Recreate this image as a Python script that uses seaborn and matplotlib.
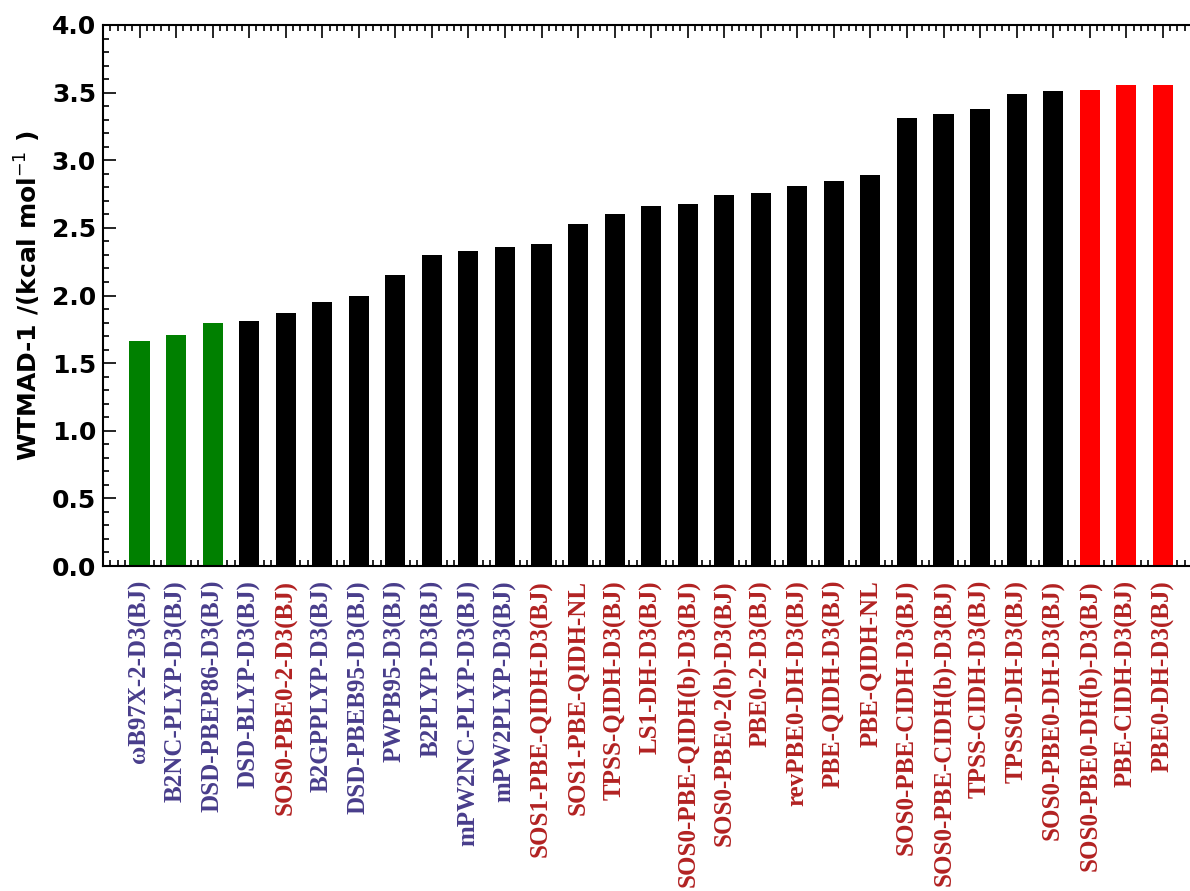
import matplotlib
matplotlib.use("Agg")
import matplotlib.pyplot as plt
from matplotlib.ticker import MultipleLocator
import seaborn as sns

# functionals, sorted by WTMAD-1
methods = ['ωB97X-2-D3(BJ)', 'B2NC-PLYP-D3(BJ)', 'DSD-PBEP86-D3(BJ)', 'DSD-BLYP-D3(BJ)',
           'SOS0-PBE0-2-D3(BJ)', 'B2GPPLYP-D3(BJ)', 'DSD-PBEB95-D3(BJ)', 'PWPB95-D3(BJ)',
           'B2PLYP-D3(BJ)', 'mPW2NC-PLYP-D3(BJ)', 'mPW2PLYP-D3(BJ)', 'SOS1-PBE-QIDH-D3(BJ)',
           'SOS1-PBE-QIDH-NL', 'TPSS-QIDH-D3(BJ)', 'LS1-DH-D3(BJ)', 'SOS0-PBE-QIDH(b)-D3(BJ)',
           'SOS0-PBE0-2(b)-D3(BJ)', 'PBE0-2-D3(BJ)', 'revPBE0-DH-D3(BJ)', 'PBE-QIDH-D3(BJ)',
           'PBE-QIDH-NL', 'SOS0-PBE-CIDH-D3(BJ)', 'SOS0-PBE-CIDH(b)-D3(BJ)', 'TPSS-CIDH-D3(BJ)',
           'TPSS0-DH-D3(BJ)', 'SOS0-PBE0-DH-D3(BJ)', 'SOS0-PBE0-DH(b)-D3(BJ)', 'PBE-CIDH-D3(BJ)',
           'PBE0-DH-D3(BJ)']
wtmad = [1.66, 1.71, 1.80, 1.81, 1.87, 1.95, 2.00, 2.15, 2.30, 2.33, 2.36, 2.38,
         2.53, 2.60, 2.66, 2.68, 2.74, 2.76, 2.81, 2.85, 2.89, 3.31, 3.34, 3.38,
         3.49, 3.51, 3.52, 3.56, 3.56]
bar_group = ['best'] * 3 + ['mid'] * 23 + ['worst'] * 3
label_group = ['lit'] * 4 + ['new'] + ['lit'] * 6 + ['new'] * 18

bar_colors = {'best': 'green', 'mid': 'black', 'worst': '#ff0000'}
label_colors = {'lit': '#483d8b', 'new': '#b22222'}

sns.set_style("ticks")
plt.rcParams['font.family'] = ['DejaVu Sans']
plt.rcParams['text.color'] = 'black'
plt.rcParams['axes.labelcolor'] = 'black'
plt.rcParams['xtick.color'] = 'black'
plt.rcParams['ytick.color'] = 'black'

fig = plt.figure(figsize=(11.9, 8.91), dpi=100)
ax = fig.add_axes([103 / 1190, 325 / 891, 1100 / 1190, 541 / 891])

sns.barplot(x=methods, y=wtmad, hue=methods,
            palette=[bar_colors[g] for g in bar_group],
            legend=False, width=0.55, saturation=1, edgecolor='none', ax=ax)

ax.set_xlim(-1.0, 29.1)
ax.set_ylim(0, 4.0)
ax.yaxis.set_major_locator(MultipleLocator(0.5))
ax.yaxis.set_minor_locator(MultipleLocator(0.1))
ax.xaxis.set_minor_locator(MultipleLocator(0.2))

for s in ax.spines.values():
    s.set_linewidth(1.5)
    s.set_color('black')

ax.tick_params(which='both', direction='in', top=True, right=True, width=1.2)
ax.tick_params(which='major', length=9)
ax.tick_params(which='minor', length=4)
ax.tick_params(axis='y', labelsize=18, pad=5)
ax.tick_params(axis='x', pad=10)

for lbl in ax.get_yticklabels():
    lbl.set_fontweight('bold')

ax.set_xticks(range(len(methods)))
ax.set_xticklabels(methods, rotation=90, fontsize=18, fontweight='bold',
                   family='Liberation Serif')
for lbl, g in zip(ax.get_xticklabels(), label_group):
    lbl.set_color(label_colors[g])

ax.set_ylabel(r'WTMAD-1 /(kcal mol$^{-1}$ )', fontsize=18, fontweight='bold', labelpad=6)

fig.savefig('out.png', dpi=100)
